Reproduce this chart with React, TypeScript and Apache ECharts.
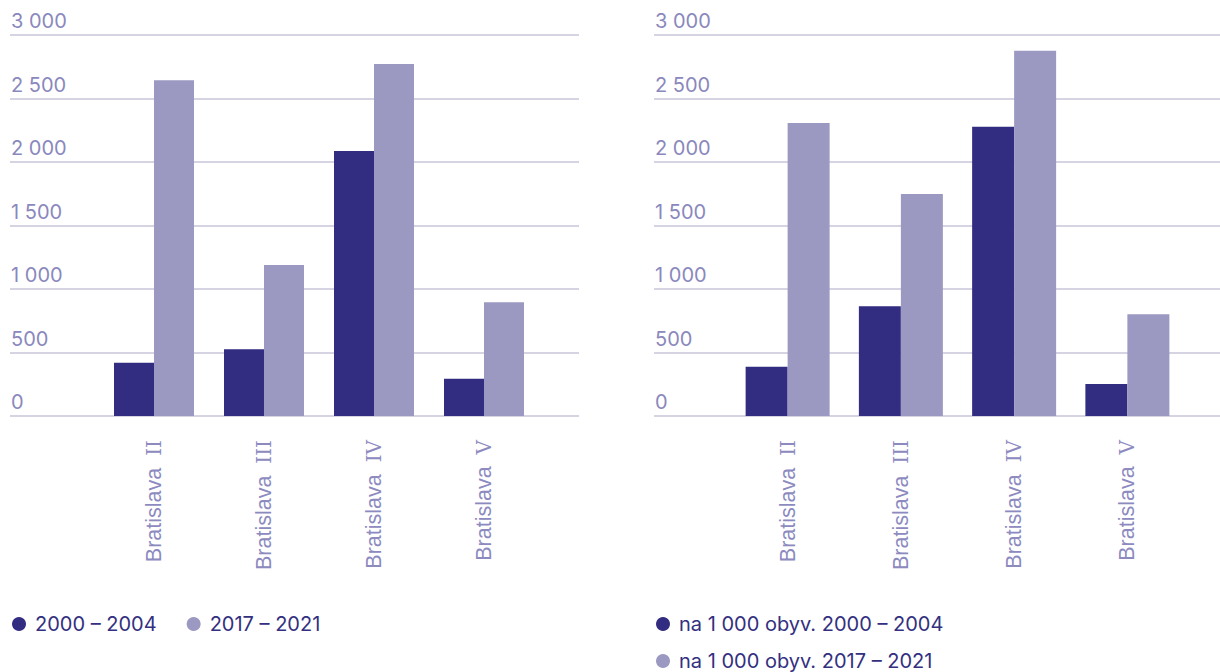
import React, { useEffect, useRef } from "react";
import * as echarts from "echarts";

const categories = ["Bratislava II", "Bratislava III", "Bratislava IV", "Bratislava V"];
const left2000 = [420, 525, 2087, 294];
const left2017 = [2643, 1189, 2772, 895];
const right2000 = [388, 864, 2278, 252];
const right2017 = [2307, 1748, 2876, 801];
const leftNames = ["2000 – 2004", "2017 – 2021"];
const rightNames = ["na 1 000 obyv. 2000 – 2004", "na 1 000 obyv. 2017 – 2021"];
const yMax = 3000;
const yStep = 500;

const DARK = "#322d80";
const LIGHT = "#9b98c2";
const GRID = "#c9c6da";
const YLAB = "#8a88bc";
const XLAB = "#8c8abf";
const LEG = "#33307f";

const fmt = (v: number) => String(v).replace(/\B(?=(\d{3})+(?!\d))/g, " ");

export default function App() {
  const ref = useRef<HTMLDivElement>(null);
  useEffect(() => {
    if (!ref.current) return;
    const chart = echarts.init(ref.current, undefined, { renderer: "svg" });
    const top = 35;
    const height = 381;
    const bgY = (gi: number) => ({
      type: "value",
      gridIndex: gi,
      min: 0,
      max: yMax,
      interval: yStep,
      axisLine: { show: false },
      axisTick: { show: false },
      splitLine: { lineStyle: { color: GRID, width: 1.5 } },
      axisLabel: {
        inside: true,
        margin: 1,
        verticalAlign: "bottom",
        padding: [0, 0, 4, 0],
        color: YLAB,
        fontFamily: "Inter",
        fontSize: 20,
        formatter: (v: number) => fmt(v),
      },
    });
    const barY = (gi: number) => ({
      type: "value",
      gridIndex: gi,
      min: 0,
      max: yMax,
      show: false,
      splitLine: { show: false },
    });
    const bgX = (gi: number) => ({ type: "value", gridIndex: gi, show: false, splitLine: { show: false } });
    const barX = (gi: number) => ({
      type: "category",
      gridIndex: gi,
      data: categories,
      axisLine: { show: false },
      axisTick: { show: false },
      axisLabel: {
        rotate: 90,
        margin: 24,
        interval: 0,
        color: XLAB,
        fontFamily: "Liberation Sans",
        fontSize: 21.5,
        formatter: (v: string) => {
          const i = v.lastIndexOf(" ");
          return `{a|${v.slice(0, i)}}  {b|${v.slice(i + 1)}}`;
        },
        rich: {
          a: { color: XLAB, fontFamily: "Liberation Sans", fontSize: 21.5 },
          b: { color: XLAB, fontFamily: "DejaVu Serif", fontSize: 20 },
        },
      },
    });
    const legendBase = {
      icon: "circle",
      itemWidth: 22,
      itemHeight: 14,
      textStyle: { color: LEG, fontFamily: "Inter", fontSize: 20 },
    };
    chart.setOption({
      animation: false,
      grid: [
        { left: 10, width: 569, top, height },
        { left: 99, width: 440, top, height },
        { left: 654, width: 566, top, height },
        { left: 731, width: 453, top, height },
      ],
      xAxis: [bgX(0), barX(1), bgX(2), barX(3)],
      yAxis: [bgY(0), barY(1), bgY(2), barY(3)],
      legend: [
        { ...legendBase, left: 7, top: 609, itemGap: 30, data: leftNames },
        { ...legendBase, left: 651, top: 609, data: [rightNames[0]] },
        { ...legendBase, left: 651, top: 646, data: [rightNames[1]] },
      ],
      series: [
        { name: leftNames[0], type: "bar", xAxisIndex: 1, yAxisIndex: 1, data: left2000, barWidth: 40, barGap: "0%", itemStyle: { color: DARK } },
        { name: leftNames[1], type: "bar", xAxisIndex: 1, yAxisIndex: 1, data: left2017, barWidth: 40, barGap: "0%", itemStyle: { color: LIGHT } },
        { name: rightNames[0], type: "bar", xAxisIndex: 3, yAxisIndex: 3, data: right2000, barWidth: 42, barGap: "0%", itemStyle: { color: DARK } },
        { name: rightNames[1], type: "bar", xAxisIndex: 3, yAxisIndex: 3, data: right2017, barWidth: 42, barGap: "0%", itemStyle: { color: LIGHT } },
      ],
    });
    return () => chart.dispose();
  }, []);
  return (
    <div
      ref={ref}
      style={{ position: "absolute", left: 0, top: 0, width: 1220, height: 672, background: "#fff" }}
    />
  );
}
